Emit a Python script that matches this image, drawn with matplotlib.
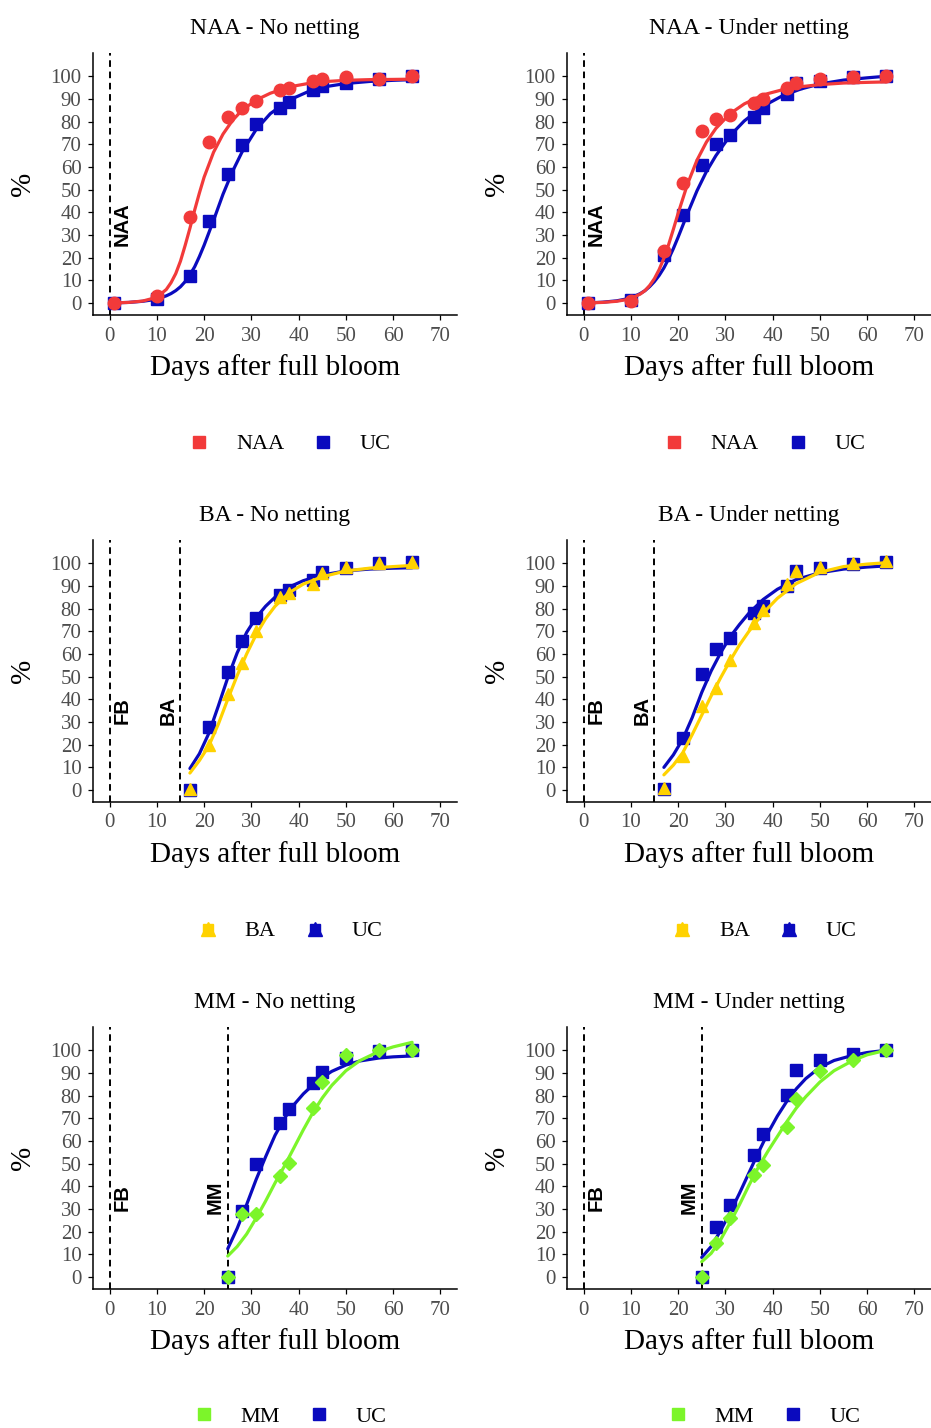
import matplotlib
matplotlib.use("Agg")
from matplotlib import pyplot as plt
from matplotlib.lines import Line2D
from matplotlib.legend_handler import HandlerTuple

plt.rcParams['font.family'] = ['Liberation Serif', 'DejaVu Serif']

RED = "#F23A3A"
BLUE = "#0A0ABE"
YELLOW = "#FFD200"
GREEN = "#7CF52A"

# %% observed points (days after full bloom, %)
days_naa = [1, 10, 17, 21, 25, 28, 31, 36, 38, 43, 45, 50, 57, 64]
naa_nonet_pts = [0, 3, 38, 71, 82, 86, 89, 94, 95, 98, 99, 99.5, 99, 100]
uc_naa_nonet_pts = [0, 2, 12, 36, 57, 69.5, 79, 86, 88.5, 94, 95.5, 97, 99, 100]
naa_net_pts = [0, 1, 23, 53, 76, 81, 83, 88, 90, 95, 97, 99, 99.7, 100]
uc_naa_net_pts = [0, 1.5, 21, 39, 61, 70, 74, 82, 86, 92, 97, 98, 99.5, 100]

days_ba = [17, 21, 25, 28, 31, 36, 38, 43, 45, 50, 57, 64]
ba_nonet_pts = [0.5, 20, 42.5, 56, 70, 85, 87, 91, 95.5, 98.5, 100, 100.5]
uc_ba_nonet_pts = [0, 28, 52, 65.5, 76, 86, 88, 92.5, 96, 98, 100, 100.5]
ba_net_pts = [1, 15, 37, 45, 57.5, 73.5, 79.5, 91, 96.5, 98.5, 100, 101]
uc_ba_net_pts = [0.5, 23, 51, 62, 67, 78, 81, 90, 96.5, 98, 99.5, 100.5]

days_mm = [25, 28, 31, 36, 38, 43, 45, 50, 57, 64]
mm_nonet_pts = [0, 28, 28, 44.5, 50.5, 74.5, 86, 98, 100, 100]
uc_mm_nonet_pts = [0, 29, 50, 68, 74, 85.5, 90.5, 96.5, 99.5, 100]
mm_net_pts = [0, 15, 26, 45, 49.5, 66, 78.5, 91, 95.5, 100]
uc_mm_net_pts = [0, 22, 32, 54, 63, 80.5, 91.5, 95.5, 98.5, 100]

# %% fitted curves
fit_days_naa = [1, 4, 7, 9, 11, 12, 13, 14, 15, 16, 17, 18, 19, 20, 22, 24, 26, 28, 31, 34, 38, 42, 46, 50, 55, 60, 64]
naa_nonet_fit = [0.1, 0.3, 0.9, 2, 4.3, 6, 9, 13, 18.5, 25.5, 33, 41, 48.5, 55.5, 66.5, 74.5, 80.5, 85, 89.5, 92.5, 95.3, 96.8, 97.7, 98.2, 98.5, 98.6, 98.7]
uc_naa_nonet_fit = [0.1, 0.3, 0.8, 1.4, 2.5, 3.2, 4.2, 5.5, 7.2, 9.5, 12.5, 16, 20.5, 25.5, 36.5, 48, 58, 66.5, 76.5, 83.5, 89.5, 93.2, 95.5, 96.8, 97.7, 98.2, 98.5]
naa_net_fit = [0.1, 0.3, 0.8, 1.5, 3, 4, 5.5, 7.8, 10.8, 14.8, 19.8, 25.8, 32.5, 39.5, 52.5, 63, 71, 77, 83.5, 87.8, 91.8, 94, 95.4, 96.3, 97, 97.3, 97.5]
uc_naa_net_fit = [0.1, 0.4, 1, 1.8, 3.2, 4.2, 5.5, 7.3, 9.5, 12.2, 15.5, 19.5, 24, 29, 39.5, 49.5, 58, 65, 73.8, 80.3, 86.8, 91.3, 94.4, 96.6, 98.3, 99.3, 100]

fit_days_ba = [17, 19, 21, 23, 25, 27, 29, 31, 33, 35, 38, 41, 45, 50, 55, 60, 64]
ba_nonet_fit = [7.5, 13, 19.5, 29, 40, 50.5, 60, 68.5, 75.5, 81, 87, 90.8, 94, 96.6, 97.8, 98.5, 99]
uc_ba_nonet_fit = [9.5, 16, 25, 37, 49.5, 60.5, 69.5, 76, 81, 85, 89.5, 92.3, 94.8, 96.6, 97.4, 97.8, 98]
ba_net_fit = [6.7, 11, 16.5, 24.5, 33, 41.5, 49.5, 57, 64, 70, 78, 84.5, 91, 96, 98.5, 99.6, 100.2]
uc_ba_net_fit = [10, 15.5, 22.5, 32, 43, 52.5, 60.5, 67.5, 73, 78, 84, 88.5, 92.8, 95.8, 97.4, 98.3, 98.8]

fit_days_mm = [25, 27, 29, 31, 33, 35, 37, 39, 41, 43, 45, 47, 50, 53, 57, 60, 64]
mm_nonet_fit = [9.3, 13.5, 19, 26, 33.5, 41.5, 49, 57, 65, 72.5, 79, 84.5, 91, 95.5, 99.5, 101.5, 103.5]
uc_mm_nonet_fit = [12.5, 21.5, 32, 43, 53, 62.5, 70, 76, 80.8, 84.7, 88, 90.7, 93.5, 95.3, 96.6, 97.1, 97.5]
mm_net_fit = [6.8, 10.5, 16.5, 24, 32, 40.5, 48.5, 55.5, 62, 68.5, 74.5, 79.5, 86, 91, 95.5, 98, 100]
uc_mm_net_fit = [8.7, 13.5, 20.5, 28.5, 37, 46, 55, 63.5, 71, 77.5, 83, 87.5, 92.5, 95.5, 97.8, 99, 100]

# vertical markers: (day, label, label offset)
marks_naa = [(0, "NAA", 2.6)]
marks_ba = [(0, "FB", 2.7), (15, "BA", -2.7)]
marks_mm = [(0, "FB", 2.7), (25, "MM", -2.6)]

panels = [
    ("NAA - No netting", "NAA", RED, "o", days_naa, naa_nonet_pts, uc_naa_nonet_pts,
     fit_days_naa, naa_nonet_fit, uc_naa_nonet_fit, marks_naa, 0),
    ("NAA - Under netting", "NAA", RED, "o", days_naa, naa_net_pts, uc_naa_net_pts,
     fit_days_naa, naa_net_fit, uc_naa_net_fit, marks_naa, 1),
    ("BA - No netting", "BA", YELLOW, "^", days_ba, ba_nonet_pts, uc_ba_nonet_pts,
     fit_days_ba, ba_nonet_fit, uc_ba_nonet_fit, marks_ba, 2),
    ("BA - Under netting", "BA", YELLOW, "^", days_ba, ba_net_pts, uc_ba_net_pts,
     fit_days_ba, ba_net_fit, uc_ba_net_fit, marks_ba, 3),
    ("MM - No netting", "MM", GREEN, "D", days_mm, mm_nonet_pts, uc_mm_nonet_pts,
     fit_days_mm, mm_nonet_fit, uc_mm_nonet_fit, marks_mm, 4),
    ("MM - Under netting", "MM", GREEN, "D", days_mm, mm_net_pts, uc_mm_net_pts,
     fit_days_mm, mm_net_fit, uc_mm_net_fit, marks_mm, 5),
]

fig = plt.figure(figsize=(9.31, 14.28), dpi=100)
lefts = [0.0999, 0.609]
bottoms = [0.7794, 0.4384, 0.0973]
legend_x = [0.311, 0.8205]
legend_y = [0.689, 0.348, 0.0082]

for (title, trt, col, mk, days, trt_pts, uc_pts, fdays, trt_fit, uc_fit, marks, i) in panels:
    row, c = divmod(i, 2)
    ax = fig.add_axes([lefts[c], bottoms[row], 0.391, 0.1835])

    for d, lab, off in marks:
        ax.axvline(d, color='black', lw=1.4, linestyle=(0, (3.4, 2.4)), zorder=1)
        ax.text(d + off, 35, lab, rotation=90, ha='center', va='center',
                family='Liberation Sans', weight='bold', fontsize=14.5)

    ms = 7.5 if mk == "D" else 9
    ax.plot(fdays, uc_fit, color=BLUE, lw=2.3, zorder=2, solid_capstyle='round', solid_joinstyle='round')
    ax.plot(days, uc_pts, 's', color=BLUE, ms=9, zorder=3)
    ax.plot(fdays, trt_fit, color=col, lw=2.3, zorder=4, solid_capstyle='round', solid_joinstyle='round')
    ax.plot(days, trt_pts, mk, color=col, ms=ms, zorder=5)

    ax.set_xlim(-3.5, 73.5)
    ax.set_ylim(-5.25, 110.25)
    ax.set_xticks(range(0, 71, 10))
    ax.set_yticks(range(0, 101, 10))
    for s in ['top', 'right']:
        ax.spines[s].set_visible(False)
    for s in ['left', 'bottom']:
        ax.spines[s].set_linewidth(1.1)
    ax.tick_params(length=3.8, width=0.9, pad=4.5, labelsize=15, labelcolor='#4D4D4D')

    ax.set_title(title, fontsize=17, pad=13.5)
    ax.set_xlabel("Days after full bloom", fontsize=21, va='baseline')
    ax.xaxis.set_label_coords(0.5, -0.229)
    ax.set_ylabel("%", fontsize=21, va='center', ha='center')
    ax.yaxis.set_label_coords(-0.192, 0.5)

    if mk == "^":
        h_trt = (Line2D([], [], marker='s', color=col, ms=7.5, lw=0),
                 Line2D([], [], marker='^', color=col, ms=9.5, lw=0))
        h_uc = (Line2D([], [], marker='s', color=BLUE, ms=7.5, lw=0),
                Line2D([], [], marker='^', color=BLUE, ms=9.5, lw=0))
    else:
        h_trt = Line2D([], [], marker='s', color=col, ms=8.5, lw=0)
        h_uc = Line2D([], [], marker='s', color=BLUE, ms=8.5, lw=0)
    fig.legend([h_trt, h_uc], [trt, "UC"], loc='center',
               bbox_to_anchor=(legend_x[c], legend_y[row]), ncol=2, frameon=False,
               fontsize=16, handlelength=1.0, handletextpad=1.15, columnspacing=1.25,
               handler_map={tuple: HandlerTuple(ndivide=1)})

plt.savefig("out.png", dpi=100)
